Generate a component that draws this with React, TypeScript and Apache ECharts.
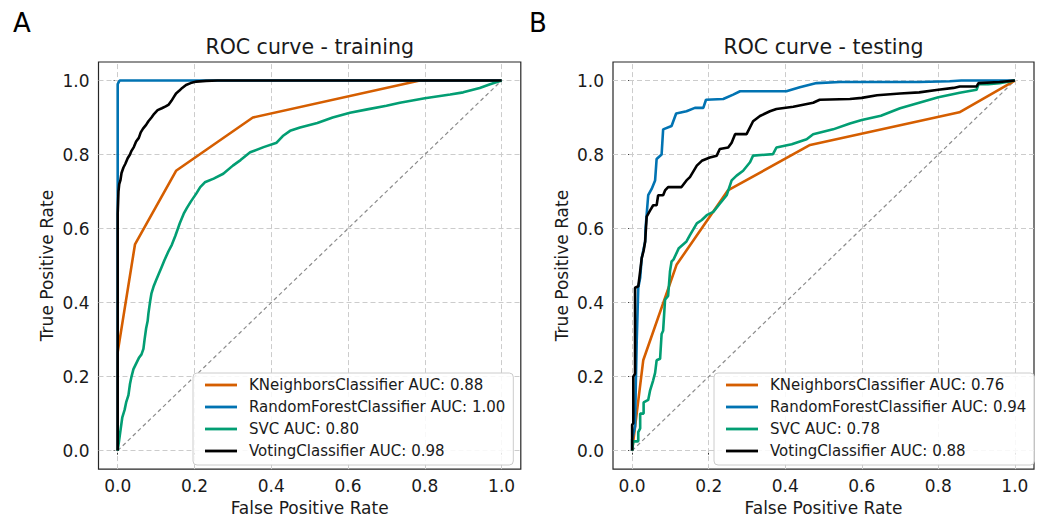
import React, { useEffect, useRef } from "react";
import * as echarts from "echarts";

const FONT = "DejaVu Sans";
const TICKS = [0, 0.2, 0.4, 0.6, 0.8, 1.0];
const DIAGONAL = [[0, 0], [1, 1]];

const TRAIN_NAMES = [
  "KNeighborsClassifier AUC: 0.88",
  "RandomForestClassifier AUC: 1.00",
  "SVC AUC: 0.80",
  "VotingClassifier AUC: 0.98",
];
const TEST_NAMES = [
  "KNeighborsClassifier AUC: 0.76",
  "RandomForestClassifier AUC: 0.94",
  "SVC AUC: 0.78",
  "VotingClassifier AUC: 0.88",
];
const COLORS = ["#d55e00", "#0173b2", "#029e73", "#000000"];

// ---- training curves [fpr, tpr]
const knnTrain = [[0, 0], [0, 0.266], [0.045, 0.557], [0.152, 0.756], [0.352, 0.9], [0.787, 1.0], [1, 1]];
const rfTrain = [[0, 0], [0, 0.99], [0.005, 1.0], [1, 1]];
const svcTrain = [
  [0, 0], [0.004, 0.03], [0.008, 0.06], [0.012, 0.09], [0.018, 0.11], [0.022, 0.13], [0.028, 0.15],
  [0.032, 0.18], [0.036, 0.2], [0.041, 0.22], [0.048, 0.235], [0.055, 0.25], [0.062, 0.26], [0.067, 0.275],
  [0.07, 0.3], [0.074, 0.33], [0.078, 0.35], [0.08, 0.37], [0.084, 0.4], [0.088, 0.425], [0.094, 0.445],
  [0.1, 0.46], [0.106, 0.475], [0.114, 0.495], [0.122, 0.515], [0.132, 0.538], [0.141, 0.556], [0.15, 0.58],
  [0.162, 0.615], [0.172, 0.64], [0.18, 0.655], [0.19, 0.672], [0.205, 0.695], [0.215, 0.712], [0.227, 0.725],
  [0.25, 0.735], [0.275, 0.748], [0.3, 0.77], [0.32, 0.785], [0.345, 0.806], [0.38, 0.82], [0.414, 0.832],
  [0.43, 0.85], [0.449, 0.864], [0.475, 0.873], [0.52, 0.885], [0.56, 0.9], [0.605, 0.913], [0.65, 0.922],
  [0.7, 0.932], [0.735, 0.94], [0.8, 0.952], [0.866, 0.962], [0.9, 0.968], [0.943, 0.98], [0.97, 0.99], [1, 1],
];
const votingTrain = [
  [0, 0], [0, 0.64], [0.001, 0.67], [0.002, 0.7], [0.004, 0.72], [0.007, 0.73], [0.01, 0.75], [0.015, 0.765],
  [0.02, 0.775], [0.026, 0.79], [0.032, 0.8], [0.036, 0.81], [0.042, 0.82], [0.048, 0.835], [0.055, 0.845],
  [0.06, 0.86], [0.066, 0.87], [0.074, 0.88], [0.08, 0.89], [0.088, 0.9], [0.095, 0.91], [0.104, 0.92],
  [0.115, 0.925], [0.125, 0.93], [0.133, 0.935], [0.14, 0.945], [0.146, 0.955], [0.152, 0.965], [0.16, 0.972],
  [0.168, 0.98], [0.178, 0.988], [0.19, 0.993], [0.205, 0.997], [0.23, 0.999], [0.26, 1.0], [1, 1],
];

// ---- testing curves [fpr, tpr]
const knnTest = [[0, 0], [0.029, 0.244], [0.116, 0.502], [0.25, 0.703], [0.465, 0.826], [0.855, 0.914], [1, 1]];
const rfTest = [
  [0, 0], [0, 0.03], [0.0076, 0.065], [0.01, 0.2], [0.012, 0.297], [0.016, 0.44], [0.021, 0.467], [0.025, 0.52],
  [0.034, 0.565], [0.035, 0.6], [0.042, 0.69], [0.051, 0.707], [0.06, 0.73], [0.064, 0.788], [0.077, 0.8],
  [0.081, 0.868], [0.103, 0.877], [0.115, 0.911], [0.142, 0.917], [0.164, 0.926], [0.186, 0.926], [0.193, 0.948],
  [0.238, 0.95], [0.264, 0.962], [0.282, 0.971], [0.403, 0.971], [0.438, 0.982], [0.482, 0.993], [0.543, 0.996],
  [0.75, 0.996], [0.83, 0.998], [0.86, 1.0], [1, 1],
];
const svcTest = [
  [0, 0], [0.003, 0.025], [0.016, 0.025], [0.016, 0.05], [0.021, 0.06], [0.021, 0.1], [0.03, 0.1], [0.03, 0.13],
  [0.042, 0.137], [0.047, 0.163], [0.055, 0.19], [0.06, 0.21], [0.064, 0.244], [0.073, 0.248], [0.077, 0.315],
  [0.081, 0.324], [0.086, 0.408], [0.094, 0.418], [0.099, 0.485], [0.103, 0.511], [0.108, 0.516], [0.122, 0.547],
  [0.142, 0.565], [0.151, 0.582], [0.169, 0.614], [0.182, 0.623], [0.195, 0.636], [0.212, 0.645], [0.229, 0.667],
  [0.247, 0.69], [0.26, 0.73], [0.273, 0.743], [0.29, 0.756], [0.308, 0.779], [0.316, 0.797], [0.368, 0.801],
  [0.377, 0.819], [0.417, 0.828], [0.456, 0.841], [0.473, 0.855], [0.525, 0.868], [0.569, 0.884], [0.6, 0.893],
  [0.65, 0.905], [0.7, 0.925], [0.75, 0.94], [0.8, 0.955], [0.856, 0.967], [0.9, 0.975], [0.905, 0.99],
  [0.93, 0.99], [0.96, 0.993], [1, 1],
];
const votingTest = [
  [0, 0], [0, 0.07], [0.003, 0.074], [0.003, 0.2], [0.0076, 0.208], [0.0076, 0.44], [0.016, 0.444], [0.018, 0.46],
  [0.021, 0.485], [0.025, 0.52], [0.03, 0.54], [0.034, 0.565], [0.038, 0.632], [0.047, 0.649], [0.055, 0.663],
  [0.064, 0.663], [0.068, 0.69], [0.081, 0.69], [0.086, 0.703], [0.094, 0.712], [0.129, 0.712], [0.142, 0.73],
  [0.151, 0.739], [0.169, 0.77], [0.182, 0.783], [0.203, 0.792], [0.221, 0.797], [0.229, 0.815], [0.251, 0.819],
  [0.26, 0.832], [0.269, 0.855], [0.299, 0.855], [0.316, 0.89], [0.334, 0.904], [0.36, 0.917], [0.377, 0.923],
  [0.421, 0.929], [0.473, 0.94], [0.49, 0.948], [0.569, 0.95], [0.6, 0.953], [0.64, 0.96], [0.7, 0.965],
  [0.75, 0.968], [0.8, 0.975], [0.84, 0.98], [0.856, 0.984], [0.9, 0.984], [0.905, 0.993], [0.96, 0.996], [1, 1],
];

const TRAIN_CURVES = [knnTrain, rfTrain, svcTrain, votingTrain];
const TEST_CURVES = [knnTest, rfTest, svcTest, votingTest];

const PANELS = [
  { letter: "A", letterX: 13, title: "ROC curve - training", grid: { left: 98.5, top: 62, width: 422.3, height: 411 }, legend: { left: 193, top: 373 }, names: TRAIN_NAMES, curves: TRAIN_CURVES },
  { letter: "B", letterX: 529, title: "ROC curve - testing", grid: { left: 613, top: 62, width: 421, height: 411 }, legend: { left: 714, top: 373 }, names: TEST_NAMES, curves: TEST_CURVES },
];

function buildOption() {
  const grid: any[] = [];
  const xAxis: any[] = [];
  const yAxis: any[] = [];
  const legend: any[] = [];
  const series: any[] = [];
  const graphic: any[] = [];
  const textColor = "#1a1a1a";

  PANELS.forEach((p, i) => {
    grid.push({ ...p.grid, show: true, borderColor: "#262626", borderWidth: 1.2, backgroundColor: "transparent" });
    const axisCommon = {
      type: "value",
      gridIndex: i,
      min: -0.05,
      max: 1.05,
      axisLine: { show: false },
      splitLine: { show: false },
      axisTick: { show: true, customValues: TICKS, length: 4, lineStyle: { color: "#262626", width: 1 } },
      axisLabel: { customValues: TICKS, formatter: (v: number) => v.toFixed(1), fontFamily: FONT, fontSize: 17, color: textColor },
      nameLocation: "middle",
      nameTextStyle: { fontFamily: FONT, fontSize: 17, color: textColor },
    };
    xAxis.push({ ...axisCommon, axisLabel: { ...axisCommon.axisLabel, margin: 8 }, name: "False Positive Rate", nameGap: 28 });
    yAxis.push({ ...axisCommon, axisLabel: { ...axisCommon.axisLabel, margin: 9 }, name: "True Positive Rate", nameGap: 43 });

    legend.push({
      orient: "vertical",
      left: p.legend.left,
      top: p.legend.top,
      data: p.names,
      icon: "rect",
      itemWidth: 32,
      itemHeight: 2.8,
      itemGap: 4,
      padding: [3, 8, 5, 12],
      backgroundColor: "rgba(255,255,255,0.85)",
      borderColor: "#cccccc",
      borderWidth: 1,
      borderRadius: 4,
      selectedMode: false,
      textStyle: { fontFamily: FONT, fontSize: 15, color: textColor, lineHeight: 18, padding: [0, 0, 0, 7] },
    });

    series.push({
      type: "line",
      name: "chance" + i,
      xAxisIndex: i,
      yAxisIndex: i,
      data: DIAGONAL,
      symbol: "none",
      silent: true,
      z: 1,
      lineStyle: { color: "#8c8c8c", width: 1.2, type: [4, 3] },
      itemStyle: { color: "#8c8c8c" },
      markLine: {
        silent: true,
        z: 1,
        symbol: ["none", "none"],
        label: { show: false },
        lineStyle: { color: "#cccccc", width: 1, type: [5, 3] },
        emphasis: { disabled: true },
        data: [...TICKS.map((v) => ({ xAxis: v })), ...TICKS.map((v) => ({ yAxis: v }))],
      },
    });

    p.curves.forEach((c, k) => {
      series.push({
        type: "line",
        name: p.names[k],
        xAxisIndex: i,
        yAxisIndex: i,
        data: c,
        symbol: "none",
        showSymbol: false,
        z: 3,
        lineStyle: { color: COLORS[k], width: 2.6 },
        itemStyle: { color: COLORS[k] },
      });
    });

    const cx = p.grid.left + p.grid.width / 2;
    graphic.push({
      type: "text",
      x: cx,
      y: 47,
      style: { text: p.title, fontFamily: FONT, fontSize: 20.5, fill: textColor, textAlign: "center", textVerticalAlign: "middle" },
    });
    graphic.push({
      type: "text",
      x: p.letterX,
      y: 23,
      style: { text: p.letter, fontFamily: FONT, fontSize: 26, fill: "#000", textAlign: "left", textVerticalAlign: "middle" },
    });
  });

  return { animation: false, backgroundColor: "#ffffff", grid, xAxis, yAxis, legend, series, graphic };
}

export default function App() {
  const ref = useRef<HTMLDivElement>(null);
  useEffect(() => {
    if (!ref.current) return;
    const chart = echarts.init(ref.current, undefined, { renderer: "svg" });
    chart.setOption(buildOption() as any);
    return () => chart.dispose();
  }, []);
  return <div ref={ref} style={{ position: "fixed", left: 0, top: 0, width: 1042, height: 521 }} />;
}
